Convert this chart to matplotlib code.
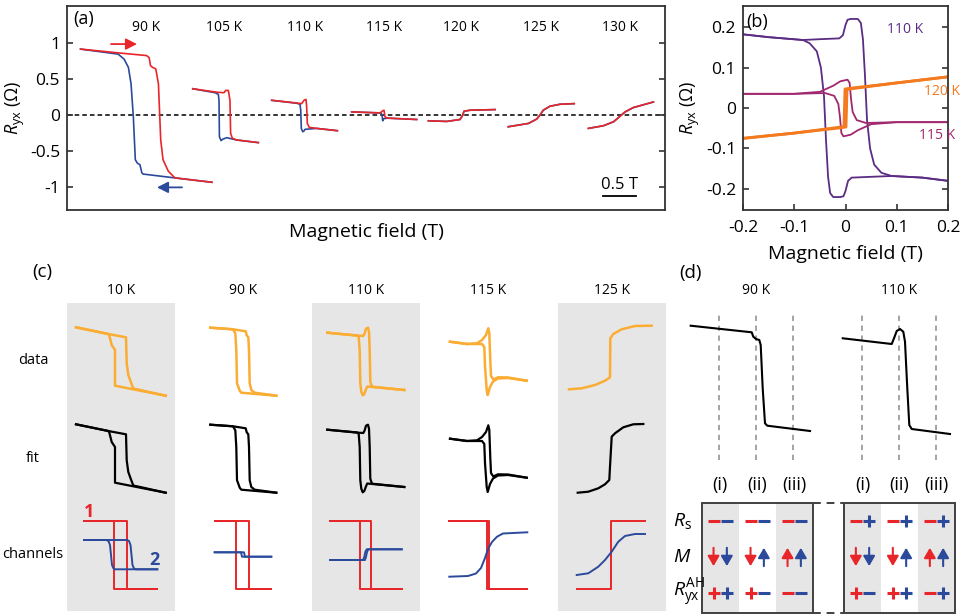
import matplotlib.pyplot as plt
from matplotlib.patches import Rectangle
import numpy as np

plt.rcParams['font.family'] = ['Open Sans', 'DejaVu Sans']
plt.rcParams['mathtext.fontset'] = 'custom'
plt.rcParams['mathtext.rm'] = 'Open Sans'
plt.rcParams['mathtext.it'] = 'Open Sans:italic'
plt.rcParams['axes.unicode_minus'] = False

RED = '#e8262a'
BLUE = '#2b4a9b'
ORANGE = '#fbad33'
GREY = '#e6e6e6'
FRAME = '#333333'

# ---------------- panel (a): R_yx loops, offset per temperature (field in T, R in Ohm)
a_temps = ['90 K', '105 K', '110 K', '115 K', '120 K', '125 K', '130 K']
a_centers = [1.205, 2.379, 3.606, 4.803, 5.97, 7.18, 8.38]
a90_red = [(-1.0, 0.92), (-0.40, 0.865), (0.0, 0.83), (0.04, 0.80), (0.06, 0.69), (0.09, 0.666),
           (0.14, 0.644), (0.18, 0.44), (0.215, -0.345), (0.25, -0.62), (0.33, -0.78),
           (0.43, -0.873), (0.99, -0.934)]
a90_blue = [(0.99, -0.934), (0.43, -0.873), (-0.05, -0.82), (-0.07, -0.805), (-0.10, -0.69),
            (-0.14, -0.666), (-0.17, -0.62), (-0.20, -0.02), (-0.235, 0.44), (-0.275, 0.666),
            (-0.34, 0.78), (-0.43, 0.85), (-1.0, 0.92)]
a105_red = [(-0.474, 0.368), (-0.11, 0.32), (0.0, 0.313), (0.025, 0.345), (0.065, 0.345), (0.09, 0.207),
            (0.10, -0.253), (0.126, -0.32), (0.19, -0.345), (0.52, -0.382)]
a105_blue = [(0.52, -0.382), (0.19, -0.345), (0.04, -0.313), (-0.02, -0.335), (-0.045, -0.354),
             (-0.07, -0.30), (-0.076, 0.207), (-0.086, 0.29), (-0.136, 0.313), (-0.474, 0.368)]
a110_red = [(-0.505, 0.207), (-0.177, 0.175), (-0.05, 0.161), (-0.015, 0.207), (0.015, 0.22), (0.025, 0.115),
            (0.035, -0.115), (0.065, -0.17), (0.177, -0.184), (0.49, -0.216)]
a110_blue = [(0.49, -0.216), (0.177, -0.184), (0.0, -0.197), (-0.015, -0.22), (-0.035, -0.23),
             (-0.056, -0.184), (-0.065, 0.07), (-0.076, 0.152), (-0.126, 0.166), (-0.505, 0.207)]
a115_red = [(-0.49, 0.046), (-0.06, 0.032), (-0.02, 0.06), (0.0, 0.069), (0.015, -0.023), (0.05, -0.041),
            (0.495, -0.06)]
a115_blue = [(0.495, -0.06), (0.05, -0.041), (-0.01, -0.05), (-0.02, -0.078), (-0.03, 0.0),
             (-0.045, 0.03), (-0.49, 0.046)]
a120_red = [(-0.495, -0.078), (-0.217, -0.087), (-0.015, -0.06), (0.025, 0.0), (0.045, 0.055),
            (0.136, 0.069), (0.515, 0.078)]
a125_red = [(-0.495, -0.161), (-0.19, -0.115), (-0.065, -0.055), (-0.015, 0.0), (0.035, 0.069),
            (0.136, 0.124), (0.288, 0.152), (0.505, 0.161)]
a130_red = [(-0.48, -0.184), (-0.253, -0.147), (-0.1, -0.092), (0.0, -0.014), (0.076, 0.046),
            (0.2, 0.106), (0.505, 0.184)]
a_red = [a90_red, a105_red, a110_red, a115_red, a120_red, a125_red, a130_red]
a_blue = [a90_blue, a105_blue, a110_blue, a115_blue, a120_red, a125_red, a130_red]
a_sweep_red = [(0.667, 0.99), (1.06, 0.99)]
a_sweep_blue = [(1.742, -1.005), (1.364, -1.005)]
a_scalebar = [(8.12, -1.13), (8.62, -1.13)]

# ---------------- panel (b): R_yx vs field near zero
b110_up = [(-0.2, 0.182), (-0.15, 0.175), (-0.083, 0.168), (-0.05, 0.17), (-0.012, 0.172), (-0.005, 0.18),
           (0.0, 0.205), (0.004, 0.218), (0.01, 0.22), (0.024, 0.22), (0.03, 0.21), (0.034, 0.17),
           (0.038, 0.08), (0.042, -0.03), (0.048, -0.1), (0.056, -0.14), (0.07, -0.16), (0.09, -0.168),
           (0.15, -0.172), (0.2, -0.18)]
b110_down = [(0.2, -0.18), (0.15, -0.172), (0.09, -0.168), (0.05, -0.17), (0.012, -0.172), (0.005, -0.18),
             (0.0, -0.205), (-0.004, -0.218), (-0.01, -0.22), (-0.024, -0.22), (-0.03, -0.21),
             (-0.034, -0.17), (-0.038, -0.08), (-0.042, 0.03), (-0.048, 0.1), (-0.056, 0.14),
             (-0.07, 0.16), (-0.083, 0.168), (-0.15, 0.175), (-0.2, 0.182)]
b115_up = [(-0.2, 0.035), (-0.1, 0.035), (-0.05, 0.04), (-0.024, 0.055), (-0.01, 0.066), (0.004, 0.07),
           (0.008, 0.062), (0.011, 0.02), (0.014, -0.01), (0.022, -0.03), (0.04, -0.037), (0.1, -0.035),
           (0.2, -0.035)]
b115_down = [(0.2, -0.035), (0.1, -0.035), (0.05, -0.04), (0.024, -0.055), (0.01, -0.066), (-0.004, -0.07),
             (-0.008, -0.062), (-0.011, -0.02), (-0.014, 0.01), (-0.022, 0.03), (-0.04, 0.037),
             (-0.1, 0.035), (-0.2, 0.035)]
b120_up = [(-0.2, -0.075), (-0.1, -0.062), (-0.01, -0.049), (0.001, -0.047), (0.003, 0.046),
           (0.1, 0.062), (0.2, 0.077)]
b120_down = [(0.2, 0.077), (0.1, 0.062), (0.01, 0.049), (-0.001, 0.047), (-0.003, -0.046),
             (-0.1, -0.062), (-0.2, -0.075)]
b_colors = ['#5b2c83', '#a1286e', '#f47a20']
b_labels = ['110 K', '115 K', '120 K']
b_label_pos = [(0.081, 0.193), (0.144, -0.067), (0.154, 0.04)]

# ---------------- panel (c): schematic cells (arbitrary units)
c_temps = ['10 K', '90 K', '110 K', '115 K', '125 K']
c_rows = ['data', 'fit', 'channels']
c10_up = [(-45, 33.7), (-12.7, 27), (5, 23.7), (5.7, -2.3), (7.3, -14), (9.7, -20.7), (12.3, -27.5),
          (44.7, -34.7)]
c10_down = [(44.7, -34.7), (-6, -24.7), (-6, 11), (-9.3, 16), (-11.7, 25.5), (-12.7, 27), (-45, 33.7)]
c90_up = [(-32.7, 33.3), (-10, 31.7), (2.7, 29.7), (3.7, 25.7), (5.3, 23.7), (6, 11), (6.7, -22.3),
          (8.3, -29), (11.7, -31.7), (33.3, -34.7)]
c90_down = [(33.3, -34.7), (-1.7, -31.7), (-3.3, -29.7), (-4.7, -25.7), (-6, -22.3), (-6.7, 11),
            (-7.7, 27.7), (-10, 31.7), (-32.7, 33.3)]
c110_up = [(-38.7, 28.3), (-7.7, 25.3), (-2.7, 25), (-1.3, 27.7), (0, 32.3), (2, 33.3), (3, 29.3),
           (3.7, 11), (4.3, -20.7), (6, -25.7), (38.3, -29)]
c110_down = [(38.3, -29), (1.3, -25.5), (0, -28.3), (-1.7, -33), (-3.3, -34.3), (-4.7, -30.7),
             (-5.7, -22.3), (-6.3, 11), (-7.3, 24), (-8.7, 25.5), (-38.7, 28.3)]
c115_up = [(-38, 19.3), (-21, 17), (-11, 17.7), (-6, 21), (-2, 26), (0.3, 32.7), (1.3, 28), (2.3, 0),
           (3, -15), (5.3, -18.5), (10, -16.3), (20, -16.5), (38.7, -19.7)]
c115_down = [(38.7, -19.7), (20, -17), (10, -17.5), (5, -20.5), (2, -26), (-0.3, -34), (-1.3, -29),
             (-3, -5), (-3.7, 14), (-6, 17), (-21, 17), (-38, 19.3)]
c125_data = [(-43, -28.3), (-30.3, -27.3), (-17, -24), (-7, -19.7), (-2, -16.3), (-1.7, 22.7), (1.3, 27),
             (9.7, 31.7), (23, 35), (39.7, 35.3)]
c125_fit = [(-34.3, -34.7), (-23.7, -33.7), (-13.7, -30.3), (-7, -26.3), (-2.7, -22), (-2, -8.7),
            (-0.3, 21.3), (3, 24.7), (11.3, 30.7), (21.3, 33.7), (31.3, 34)]
c_data = [[c10_up, c10_down], [c90_up, c90_down], [c110_up, c110_down], [c115_up, c115_down], [c125_data]]
c_fit = [[c10_up, c10_down], [c90_up, c90_down], [c110_up, c110_down], [c115_up, c115_down], [c125_fit]]
c_red = [
    [[(-37, 34.3), (5.7, 34.3), (5.7, -34), (36.3, -34)], [(36.3, -34), (-6.7, -34), (-6.7, 34.3), (-37, 34.3)]],
    [[(-28.3, 34.3), (6, 34.3), (6, -34), (28.3, -34)], [(28.3, -34), (-6.7, -34), (-6.7, 34.3), (-28.3, 34.3)]],
    [[(-36, 34.3), (4.7, 34.3), (4.7, -34), (35.7, -34)], [(35.7, -34), (-6, -34), (-6, 34.3), (-36, 34.3)]],
    [[(-38.7, 34.3), (1.3, 34.3), (1.3, -33.7), (39.3, -33.7)], [(39.3, -33.7), (-1.3, -33.7), (-1.3, 34.3), (-38.7, 34.3)]],
    [[(-35.3, -33.7), (-1.5, -33.7), (-1.5, 34.3), (33, 34.3)]],
]
c_blue = [
    [[(-37, 15), (6, 15), (8, 14), (9.5, 10), (10.5, 0), (11.5, -10), (13, -13.5), (15, -14.3), (36.3, -14.3)],
     [(36.3, -14.3), (-6, -14.3), (-7.5, -13.5), (-9, -10), (-10, 0), (-11, 10), (-12.5, 14), (-15, 15), (-37, 15)]],
    [[(-28.3, 2.7), (1, 2.7), (2, -1.7), (28.3, -1.7)], [(28.3, -1.7), (-1, -1.7), (-2, 2.7), (-28.3, 2.7)]],
    [[(-36, -5), (-1, -5), (0, -2), (1, 3), (2.3, 5.7), (35.7, 5.7)],
     [(35.7, 5.7), (0.7, 5.7), (-0.7, 3), (-1.7, -2), (-3, -5), (-36, -5)]],
    [[(-38.7, -21.7), (-20, -21), (-12, -18.5), (-7, -13), (-3, -3), (0.3, 6.7), (4, 13), (9, 18.3),
      (15, 21.5), (39.3, 22.7)]],
    [[(-35.3, -20), (-23.7, -18.3), (-13.7, -11.7), (-7, -5), (-0.3, 3.3), (6.3, 13.3), (13, 19),
      (23, 21), (33, 21)]],
]

# ---------------- panel (d): fitted curves and sign table
d_temps = ['90 K', '110 K']
d90 = [(-1.765, 1.086), (-0.116, 0.954), (-0.073, 0.866), (0, 0.82), (0.089, 0.8), (0.127, 0.7),
       (0.181, -0.166), (0.243, -0.866), (0.305, -0.914), (1.46, -1.02)]
d110 = [(-1.52, 0.834), (-0.197, 0.72), (-0.135, 0.834), (-0.062, 0.98), (0.027, 1.02), (0.116, 0.966),
        (0.162, 0.766), (0.224, -0.166), (0.278, -0.9), (0.343, -0.98), (1.378, -1.08)]
d_marks = [-1, 0, 1]
d_cols_x = [0.5, 1.5, 2.5, 4.346, 5.346, 6.346]
d_col_labels = ['(i)', '(ii)', '(iii)', '(i)', '(ii)', '(iii)']
d_boxes = [(0, 3), (3.846, 6.846)]
d_grey = [(0, 1), (2, 3), (3.846, 4.846), (5.846, 6.846)]
d_rs = [('-', '-'), ('-', '-'), ('-', '-'), ('-', '+'), ('-', '+'), ('-', '+')]
d_m = [('d', 'd'), ('d', 'u'), ('u', 'u'), ('d', 'd'), ('d', 'u'), ('u', 'u')]
d_rah = [('+', '+'), ('+', '-'), ('-', '-'), ('+', '-'), ('+', '+'), ('-', '+')]
d_row_y = [2.5, 1.52, 0.54]

W, H = 963, 614
fig = plt.figure(figsize=(W / 100, H / 100), dpi=100)


def frame(x0, y0, x1, y1):
    return [x0 / W, 1 - y1 / H, (x1 - x0) / W, (y1 - y0) / H]


def xy(pts):
    a = np.array(pts, dtype=float)
    return a[:, 0], a[:, 1]


def style_spines(ax):
    for s in ax.spines.values():
        s.set_linewidth(1.3)
        s.set_color(FRAME)


# ---- (a)
ax = fig.add_axes(frame(67, 6, 665, 210))
ax.axhline(0, color='k', ls=(0, (3, 2)), lw=1.1, zorder=1)
for c, red, blue in zip(a_centers, a_red, a_blue):
    bx, by = xy(blue)
    ax.plot(c + bx, by, color=BLUE, lw=1.2, zorder=2)
    rx, ry = xy(red)
    ax.plot(c + rx, ry, color=RED, lw=1.2, zorder=3)
for c, t in zip(a_centers, a_temps):
    ax.text(c, 1.214, t, ha='center', va='center', fontsize=10)
for pts, col in [(a_sweep_red, RED), (a_sweep_blue, BLUE)]:
    ax.annotate('', xy=pts[1], xytext=pts[0],
                arrowprops=dict(arrowstyle='-|>,head_length=0.55,head_width=0.28', color=col,
                                lw=1.3, shrinkA=0, shrinkB=0, mutation_scale=12))
sx, sy = xy(a_scalebar)
ax.plot(sx, sy, color='k', lw=1.3)
ax.text(sx.mean(), -0.97, '0.5 T', ha='center', va='center', fontsize=12)
ax.text(0.1, 1.34, '(a)', ha='left', va='center', fontsize=13)
ax.set_xlim(0, 9.06)
ax.set_ylim(-1.32, 1.52)
ax.set_xticks([])
ax.set_yticks([-1, -0.5, 0, 0.5, 1], ['-1', '-0.5', '0', '0.5', '1'])
ax.tick_params(axis='y', direction='in', left=True, right=True, length=4, width=1.2,
               labelsize=12.5, pad=5, color=FRAME)
style_spines(ax)
ax.set_xlabel('Magnetic field (T)', fontsize=14)
ax.xaxis.set_label_coords(0.5, -0.064)
ax.set_ylabel(r'$R_{\mathrm{yx}}$ (Ω)', fontsize=13)
ax.yaxis.set_label_coords(-0.067, 0.5)

# ---- (b)
bx_ = fig.add_axes(frame(743, 6, 948, 210))
for (up, down), col in zip([(b110_up, b110_down), (b115_up, b115_down), (b120_up, b120_down)], b_colors):
    lw = 2.0 if col == b_colors[2] else 1.3
    for br in (up, down):
        x, y = xy(br)
        bx_.plot(x, y, color=col, lw=lw)
for lab, pos, col in zip(b_labels, b_label_pos, b_colors):
    bx_.text(pos[0], pos[1], lab, color=col, fontsize=10, ha='left', va='center')
bx_.text(-0.193, 0.213, '(b)', fontsize=13, ha='left', va='center')
bx_.set_xlim(-0.2, 0.2)
bx_.set_ylim(-0.252, 0.252)
bx_.set_xticks([-0.2, -0.1, 0, 0.1, 0.2], ['-0.2', '-0.1', '0', '0.1', '0.2'])
bx_.set_yticks([-0.2, -0.1, 0, 0.1, 0.2], ['-0.2', '-0.1', '0', '0.1', '0.2'])
bx_.tick_params(direction='in', left=True, right=True, bottom=True, length=4, width=1.2,
                labelsize=12.5, color=FRAME)
bx_.tick_params(axis='y', pad=5)
bx_.tick_params(axis='x', pad=7)
style_spines(bx_)
bx_.set_xlabel('Magnetic field (T)', fontsize=14)
bx_.xaxis.set_label_coords(0.5, -0.172)
bx_.set_ylabel(r'$R_{\mathrm{yx}}$ (Ω)', fontsize=13)
bx_.yaxis.set_label_coords(-0.2, 0.5)

# ---- (c)
col_px = [121, 243, 366, 488, 612]
row_px = [361, 458, 555]
col_grey = [True, False, True, False, True]
fig.text(42 / W, 1 - 272 / H, '(c)', fontsize=13.5, ha='center', va='center')
for cx, t, g in zip(col_px, c_temps, col_grey):
    fig.text(cx / W, 1 - 290 / H, t, fontsize=10, ha='center', va='center')
    if g:
        bg = fig.add_axes(frame(cx - 54, 303, cx + 54, 611), zorder=0)
        bg.set_facecolor(GREY)
        bg.set_xticks([])
        bg.set_yticks([])
        for s in bg.spines.values():
            s.set_visible(False)
for ry, name in zip(row_px, c_rows):
    fig.text(33 / W, 1 - ry / H, name, fontsize=10.5, ha='center', va='center')

for i, cx in enumerate(col_px):
    axes_row = []
    for ry in row_px:
        a = fig.add_axes(frame(cx - 54, ry - 50, cx + 54, ry + 50), zorder=2)
        a.set_xlim(-54, 54)
        a.set_ylim(-50, 50)
        a.axis('off')
        axes_row.append(a)
    for br in c_data[i]:
        x, y = xy(br)
        axes_row[0].plot(x, y, color=ORANGE, lw=1.8, solid_joinstyle='round')
    for br in c_fit[i]:
        x, y = xy(br)
        axes_row[1].plot(x, y, color='k', lw=1.6, solid_joinstyle='round')
    for br in c_red[i]:
        x, y = xy(br)
        axes_row[2].plot(x, y, color=RED, lw=1.4)
    for br in c_blue[i]:
        x, y = xy(br)
        axes_row[2].plot(x, y, color=BLUE, lw=1.4)
    if i == 0:
        axes_row[2].text(-31.7, 43.3, '1', color=RED, fontsize=13, fontweight='bold',
                         ha='center', va='center')
        axes_row[2].text(33, -5, '2', color=BLUE, fontsize=13, fontweight='bold',
                         ha='center', va='center')

# ---- (d)
fig.text(690 / W, 1 - 273 / H, '(d)', fontsize=13.5, ha='center', va='center')
for curve, center, (l, r), t in [(d90, 756, (680, 830), d_temps[0]), (d110, 899, (830, 960), d_temps[1])]:
    a = fig.add_axes(frame(l, 314, r, 460))
    a.set_xlim((l - center) / 37, (r - center) / 37)
    a.set_ylim(-1.6, 1.32)
    a.axis('off')
    for m in d_marks:
        a.axvline(m, color='#8c8c8c', lw=1.1, ls=(0, (3.5, 3)))
    x, y = xy(curve)
    a.plot(x, y, color='k', lw=1.5)
    a.text(0, 1.8, t, fontsize=10, ha='center', va='center')

tb = fig.add_axes(frame(701.7, 502.7, 955, 612.7))
tb.set_xlim(0, 6.846)
tb.set_ylim(0, 3)
tb.axis('off')
for x0, x1 in d_grey:
    tb.axvspan(x0, x1, color=GREY, lw=0)
for x0, x1 in d_boxes:
    tb.add_patch(Rectangle((x0, 0), x1 - x0, 3, fill=False, ec='#404040', lw=1.4, clip_on=False))
tb.hlines([0, 3], d_boxes[0][1], d_boxes[1][0], colors='#404040', lw=1.4,
          linestyles=[(0, (4, 3))], clip_on=False)
for x, lab in zip(d_cols_x, d_col_labels):
    tb.text(x, 3.48, lab, fontsize=13, ha='center', va='center')
tb.text(-0.78, d_row_y[0], r'$R_{\mathrm{s}}$', fontsize=14, ha='left', va='center')
tb.text(-0.78, d_row_y[1], r'$M$', fontsize=14, ha='left', va='center')
tb.text(-0.78, d_row_y[2], r'$R^{\mathrm{AH}}_{\mathrm{yx}}$', fontsize=14, ha='left', va='center')
for x, rs, m, rah in zip(d_cols_x, d_rs, d_m, d_rah):
    for dx, col, k in [(-0.18, RED, 0), (0.18, BLUE, 1)]:
        for sign, yy in [(rs[k], d_row_y[0]), (rah[k], d_row_y[2])]:
            tb.plot(x + dx, yy, marker='_' if sign == '-' else '+', ms=8.5, mew=2.2, color=col,
                    clip_on=False)
        up = m[k] == 'u'
        y0, y1 = (d_row_y[1] - 0.25, d_row_y[1] + 0.25) if up else (d_row_y[1] + 0.25, d_row_y[1] - 0.25)
        tb.annotate('', xy=(x + dx, y1), xytext=(x + dx, y0),
                    arrowprops=dict(arrowstyle='-|>,head_length=0.6,head_width=0.35', color=col,
                                    lw=1.5, shrinkA=0, shrinkB=0, mutation_scale=10))

fig.savefig('out.png', dpi=100)
